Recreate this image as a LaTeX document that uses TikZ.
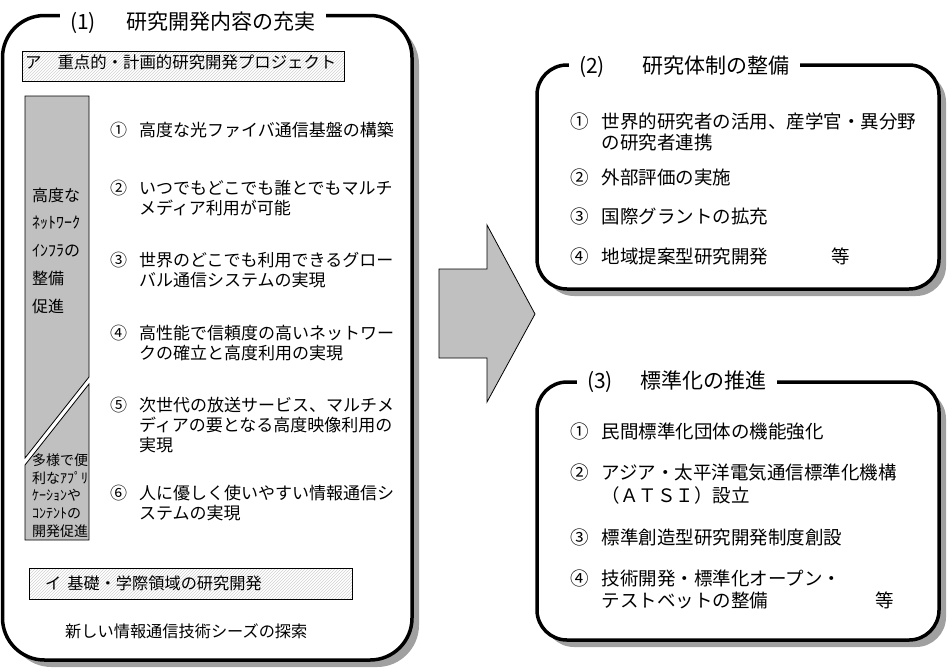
\documentclass[tikz,border=0pt]{standalone}
\usepackage{fontspec}
\setmainfont{Noto Sans CJK JP}
\usetikzlibrary{patterns}
\definecolor{pillargray}{RGB}{192,192,192}
\definecolor{shadowgray}{RGB}{160,160,160}
\tikzstyle{frame}=[draw,line width=3.5pt,fill=white]
\tikzstyle{shade}=[fill=shadowgray]
\tikzstyle{heading}=[fill=white,inner xsep=10pt,inner ysep=3pt,anchor=base,font=\fontsize{21}{24}\selectfont]
\tikzstyle{band}=[draw,line width=0.8pt,pattern=north east lines,pattern color=gray!35]
\tikzstyle{pillar}=[draw,line width=0.8pt,fill=pillargray]
\tikzstyle{tagtext}=[anchor=base west,inner sep=0pt]
\tikzstyle{entry}=[anchor=base west,inner sep=0pt,font=\fontsize{17}{19}\selectfont]
\tikzstyle{rentry}=[anchor=base west,inner sep=0pt,font=\fontsize{18.5}{21}\selectfont]
\newcommand{\numitem}[2]{\begin{tabular}[t]{@{}l@{\hspace{0.7em}}l@{}}#1&#2\end{tabular}}
\newcommand{\pillarlines}[1]{\begin{tabular}[t]{@{}l@{}}#1\end{tabular}}

\begin{document}
\begin{tikzpicture}[x=1pt,y=-1pt]
\useasboundingbox (0,0) rectangle (949,670);
% (1) left frame
\fill[shade,rounded corners=42pt] (9.5,22.5) rectangle (419,667);
\draw[frame,rounded corners=42pt] (2.5,15.5) rectangle (412,660);
\node[heading] (h1) at (193,29) {(1)\hspace{31pt}研究開発内容の充実};
\draw[band] (22,51) rectangle (344,81);
\node[tagtext,font=\fontsize{16.4}{19}\selectfont] (bandA) at (25,68.5) {ア\hspace{16pt}重点的・計画的研究開発プロジェクト};
\filldraw[pillar] (25,96) -- (89,96) -- (89,377) -- (25,458) -- cycle;
\filldraw[pillar] (89,384) -- (89,540) -- (25,540) -- (25,465) -- cycle;
\node[tagtext,font=\fontsize{16}{27.75}\selectfont] (infra) at (32,201) {\pillarlines{高度な\\ﾈｯﾄﾜｰｸ\\ｲﾝﾌﾗの\\整備\\促進}};
\node[tagtext,font=\fontsize{14}{17.8}\selectfont] (apps) at (32,465.3) {\pillarlines{多様で便\\利なｱﾌﾟﾘ\\ｹｰｼｮﾝや\\ｺﾝﾃﾝﾄの\\開発促進}};
\node[entry] (k1) at (110,136.5) {\numitem{①}{高度な光ファイバ通信基盤の構築}};
\node[entry] (k2) at (110,194.5) {\numitem{②}{いつでもどこでも誰とでもマルチ\\&メディア利用が可能}};
\node[entry] (k3) at (110,266.5) {\numitem{③}{世界のどこでも利用できるグロー\\&バル通信システムの実現}};
\node[entry] (k4) at (110,339.5) {\numitem{④}{高性能で信頼度の高いネットワー\\&クの確立と高度利用の実現}};
\node[entry] (k5) at (110,411.5) {\numitem{⑤}{次世代の放送サービス、マルチメ\\&ディアの要となる高度映像利用の\\&実現}};
\node[entry] (k6) at (110,499.5) {\numitem{⑥}{人に優しく使いやすい情報通信シ\\&ステムの実現}};
\draw[band] (29,568) rectangle (352,599);
\node[tagtext,font=\fontsize{16.2}{19}\selectfont] (bandB) at (45,589) {イ\hspace{6pt}基礎・学際領域の研究開発};
\node[tagtext,font=\fontsize{16.2}{19}\selectfont] (seeds) at (65,637.5) {新しい情報通信技術シーズの探索};
% block arrow
\filldraw[pillar] (439,269) -- (487,269) -- (487,225) -- (535,314) -- (487,402) -- (487,358) -- (439,358) -- cycle;
% (2) upper right frame
\fill[shade,rounded corners=30pt] (544,72) rectangle (946,296);
\draw[frame,rounded corners=30pt] (537,65) rectangle (939,289);
\node[heading] (h2) at (684.5,73) {(2)\hspace{38pt}研究体制の整備};
\node[rentry] (r1) at (570,128) {\numitem{①}{世界的研究者の活用、産学官・異分野\\&の研究者連携}};
\node[rentry] (r2) at (570,184) {\numitem{②}{外部評価の実施}};
\node[rentry] (r3) at (570,223) {\numitem{③}{国際グラントの拡充}};
\node[rentry] (r4) at (570,263) {\numitem{④}{地域提案型研究開発\hspace{63pt}等}};
% (3) lower right frame
\fill[shade,rounded corners=30pt] (544,389) rectangle (946,647);
\draw[frame,rounded corners=30pt] (537,382) rectangle (939,640);
\node[heading] (h3) at (677,388) {(3)\hspace{28pt}標準化の推進};
\node[rentry] (s1) at (570,438) {\numitem{①}{民間標準化団体の機能強化}};
\node[rentry,font=\fontsize{18.5}{23}\selectfont] (s2) at (570,479) {\numitem{②}{アジア・太平洋電気通信標準化機構\\&（ＡＴＳＩ）設立}};
\node[rentry] (s3) at (570,544) {\numitem{③}{標準創造型研究開発制度創設}};
\node[rentry,font=\fontsize{18.5}{22}\selectfont] (s4) at (570,585) {\numitem{④}{技術開発・標準化オープン・\\&テストベットの整備\hspace{107pt}等}};
\end{tikzpicture}
\end{document}
